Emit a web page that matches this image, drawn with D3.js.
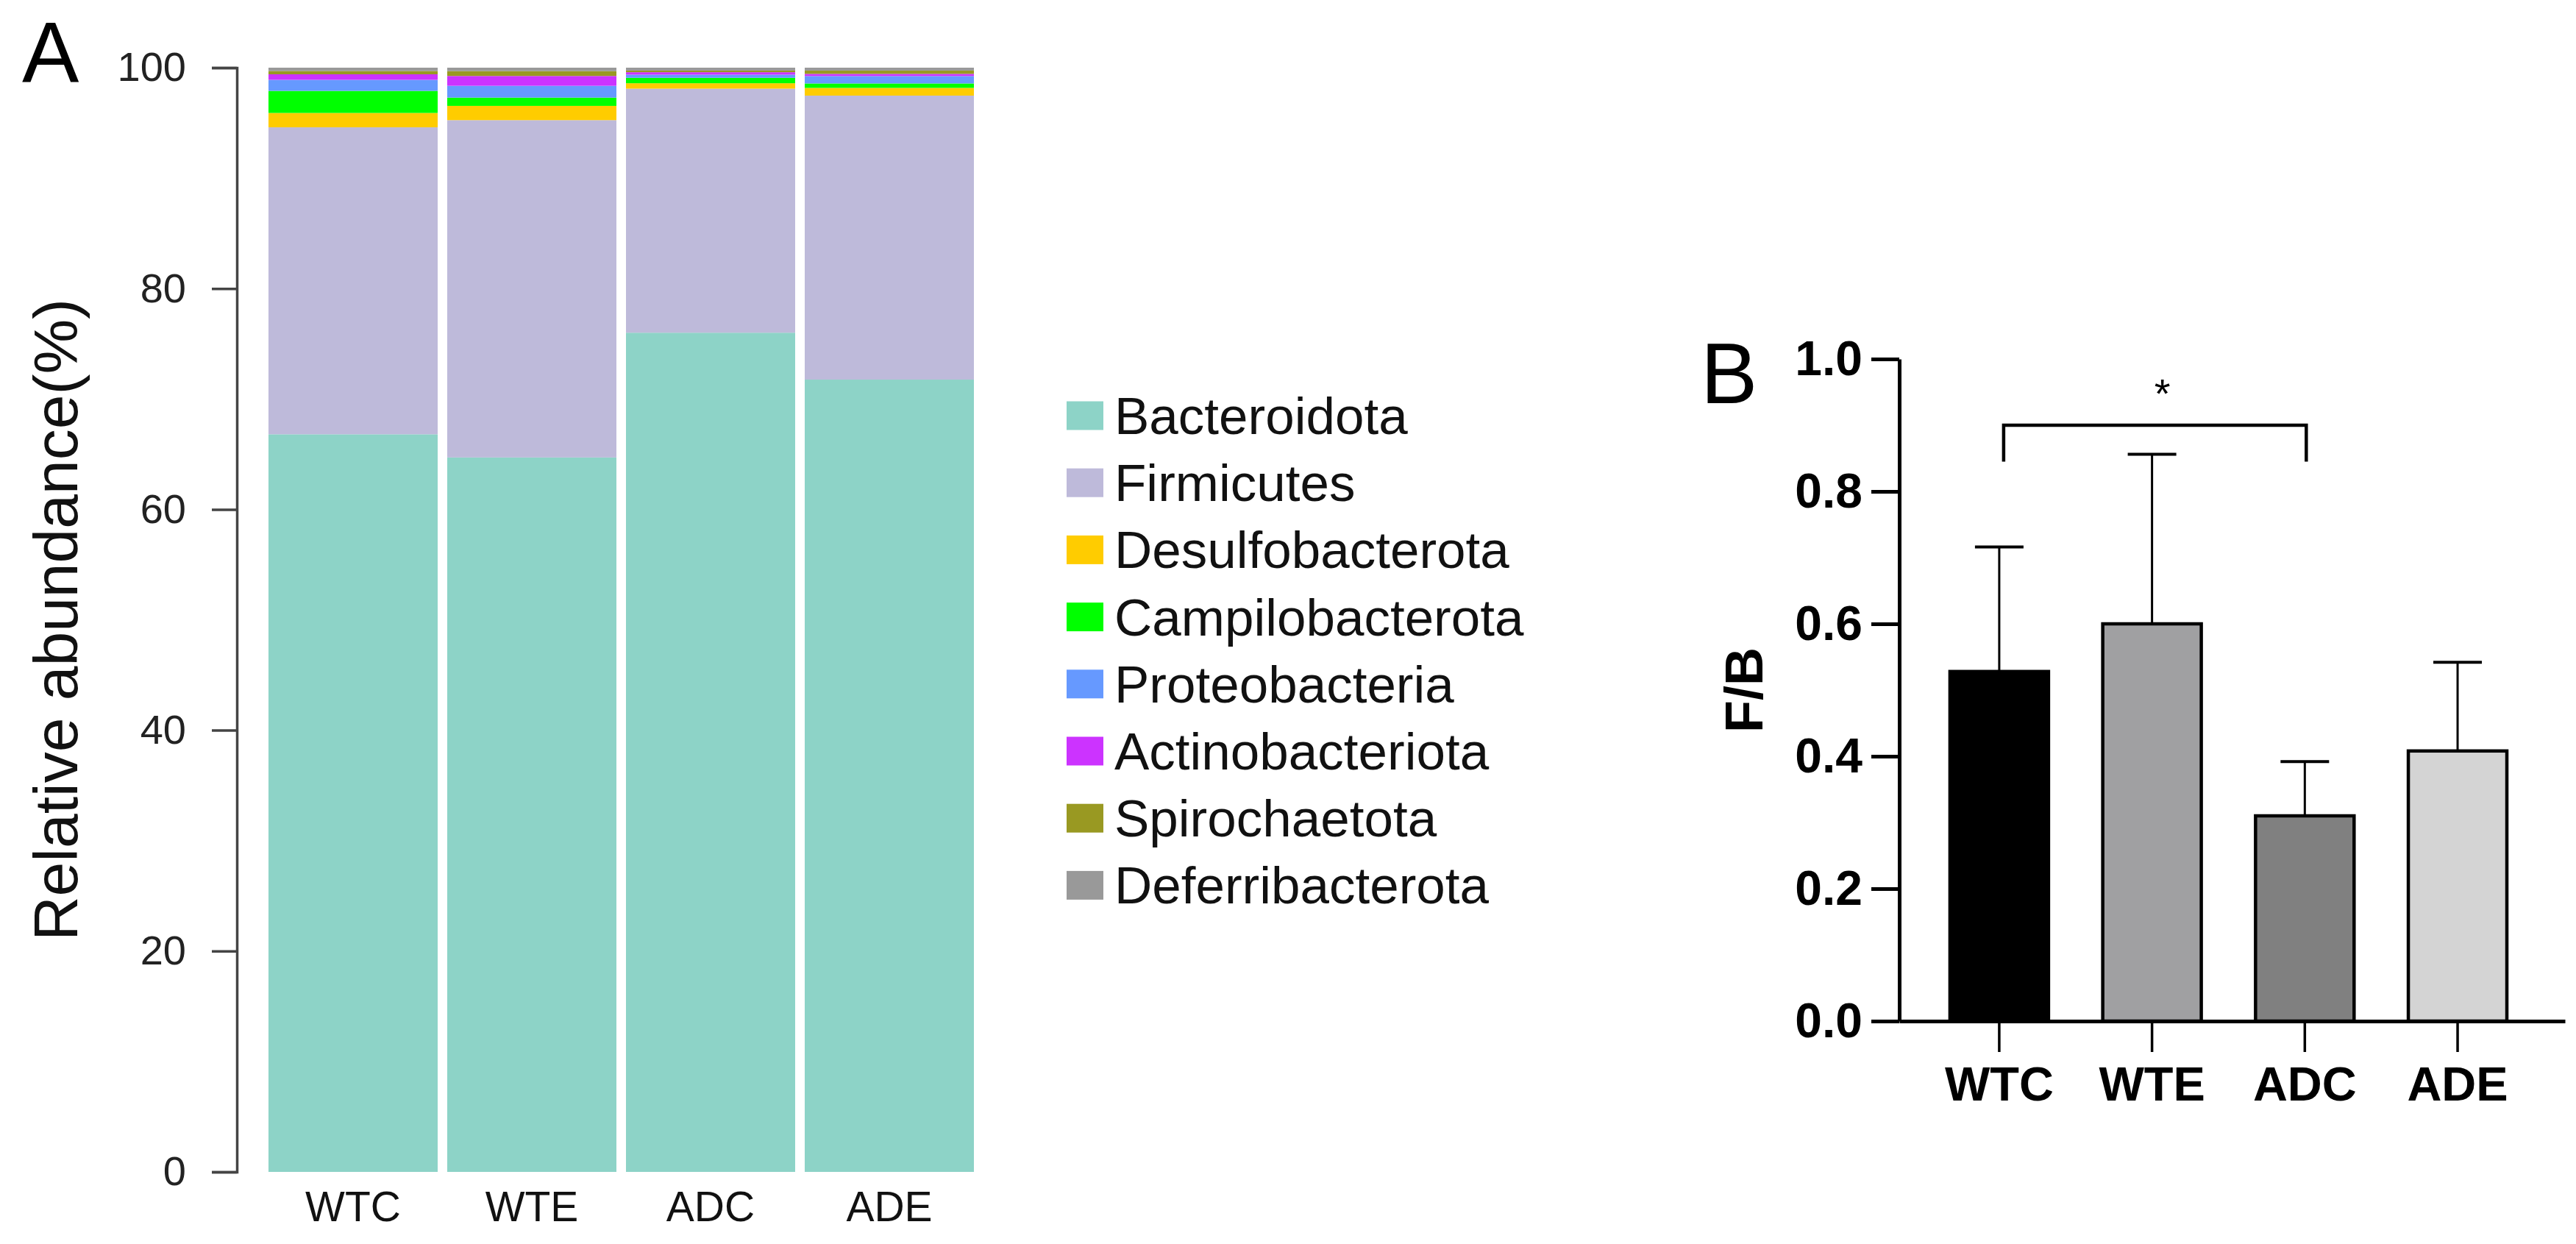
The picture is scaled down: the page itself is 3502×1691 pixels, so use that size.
<!DOCTYPE html>
<html>
<head>
<meta charset="utf-8">
<script src="https://cdn.jsdelivr.net/npm/d3@7"></script>
<style>
  body { margin: 0; background: #fff; }
  svg text { font-family: "Liberation Sans", Arial, sans-serif; }
</style>
</head>
<body>
<svg id="chart" width="3502" height="1691"></svg>
<script>
// ---- panel A data (relative abundance, %) ----
const groups = ["WTC", "WTE", "ADC", "ADE"];
const phyla = ["Bacteroidota", "Firmicutes", "Desulfobacterota", "Campilobacterota",
               "Proteobacteria", "Actinobacteriota", "Spirochaetota", "Deferribacterota"];
const phylumColors = ["#8dd3c7", "#bebada", "#ffcc00", "#00ff00",
                      "#6699ff", "#cc33ff", "#999922", "#999999"];
const bacteroidota     = [66.8, 64.7, 76.0, 71.75];
const firmicutes       = [27.8, 30.55, 22.1, 25.72];
const desulfobacterota = [1.3, 1.29, 0.49, 0.7];
const campilobacterota = [2.0, 0.75, 0.49, 0.4];
const proteobacteria   = [1.0, 1.07, 0.29, 0.67];
const actinobacteriota = [0.5, 0.89, 0.22, 0.2];
const spirochaetota    = [0.3, 0.44, 0.15, 0.3];
const deferribacterota = [0.3, 0.31, 0.26, 0.26];
const abundanceTicks = [0, 20, 40, 60, 80, 100];

// ---- panel B data (F/B ratio) ----
const fbMean  = [0.528, 0.60, 0.31, 0.408];
const fbError = [0.188, 0.256, 0.082, 0.134];
const fbFill  = ["#000000", "#a0a0a2", "#808080", "#d4d4d4"];
const fbTicks = [0, 0.2, 0.4, 0.6, 0.8, 1.0];
const sigPair = ["WTC", "ADC"];
const sigLevels = [0.9, 0.845];   // bracket top, bracket leg end
const sigLabel = "*";

const svg = d3.select("#chart");

// ================= panel A =================
const seriesValues = [bacteroidota, firmicutes, desulfobacterota, campilobacterota,
                      proteobacteria, actinobacteriota, spirochaetota, deferribacterota];
const table = groups.map((g, i) => {
  const row = { group: g };
  phyla.forEach((p, j) => { row[p] = seriesValues[j][i]; });
  return row;
});

const xA = d3.scaleBand()
  .domain(groups)
  .range([358.5, 1330.5])
  .paddingInner(0.0535)
  .paddingOuter(0.0267);

const yA = d3.scaleLinear()
  .domain([0, 100])
  .range([1593, 92]);

const colorA = d3.scaleOrdinal().domain(phyla).range(phylumColors);

const stacked = d3.stack().keys(phyla)(table);

svg.append("g")
  .selectAll("g")
  .data(stacked)
  .enter()
  .append("g")
  .attr("fill", d => colorA(d.key))
  .selectAll("rect")
  .data(d => d)
  .enter()
  .append("rect")
  .attr("x", d => xA(d.data.group))
  .attr("y", d => yA(d[1]))
  .attr("height", d => yA(d[0]) - yA(d[1]))
  .attr("width", xA.bandwidth());

const axisA = svg.append("g")
  .attr("transform", "translate(322,0)")
  .call(d3.axisLeft(yA).tickValues(abundanceTicks).tickSize(34).tickPadding(35));
axisA.selectAll("path, line").attr("stroke", "#444").attr("stroke-width", 3.5);
axisA.selectAll("text").attr("font-size", 56).attr("fill", "#222");

const xAxisA = svg.append("g")
  .attr("transform", "translate(0,1593)")
  .call(d3.axisBottom(xA).tickSize(0).tickPadding(27));
xAxisA.select(".domain").remove();
xAxisA.selectAll("text").attr("font-size", 57).attr("fill", "#111");

svg.append("text")
  .attr("transform", "translate(105," + ((yA(0) + yA(100)) / 2) + ") rotate(-90)")
  .attr("text-anchor", "middle")
  .attr("font-size", 84)
  .attr("fill", "#111")
  .text("Relative abundance(%)");

svg.append("text")
  .attr("x", 30).attr("y", 112)
  .attr("font-size", 116)
  .attr("fill", "#000")
  .text("A");

// legend
const legend = svg.append("g").attr("transform", "translate(1450,565)");
const legendItems = legend.selectAll("g")
  .data(phyla)
  .enter()
  .append("g")
  .attr("transform", (d, i) => "translate(0," + i * 91.2 + ")");
legendItems.append("rect")
  .attr("x", 0).attr("y", -19.5)
  .attr("width", 50).attr("height", 39)
  .attr("fill", d => colorA(d));
legendItems.append("text")
  .attr("x", 65).attr("y", 25)
  .attr("font-size", 71)
  .attr("fill", "#111")
  .text(d => d);

// ================= panel B =================
const xB = d3.scaleBand()
  .domain(groups)
  .range([2582, 3487])
  .paddingInner(0.355)
  .paddingOuter(0.356)
  .align(0.466);

const yB = d3.scaleLinear()
  .domain([0, 1])
  .range([1388, 488]);

const bw = xB.bandwidth();

// error bars (drawn first so the bar outline sits on top)
const errG = svg.append("g").attr("stroke", "#000");
groups.forEach((g, i) => {
  const cx = xB(g) + bw / 2;
  errG.append("line")
    .attr("x1", cx).attr("x2", cx)
    .attr("y1", yB(fbMean[i])).attr("y2", yB(fbMean[i] + fbError[i]))
    .attr("stroke-width", 3);
  errG.append("line")
    .attr("x1", cx - 33).attr("x2", cx + 33)
    .attr("y1", yB(fbMean[i] + fbError[i])).attr("y2", yB(fbMean[i] + fbError[i]))
    .attr("stroke-width", 4);
});

svg.append("g")
  .selectAll("rect")
  .data(groups)
  .enter()
  .append("rect")
  .attr("x", d => xB(d))
  .attr("y", (d, i) => yB(fbMean[i]))
  .attr("width", bw)
  .attr("height", (d, i) => yB(0) - yB(fbMean[i]))
  .attr("fill", (d, i) => fbFill[i])
  .attr("stroke", "#000")
  .attr("stroke-width", 4.5);

const axisB = svg.append("g")
  .attr("transform", "translate(2582,0)")
  .call(d3.axisLeft(yB).tickValues(fbTicks).tickFormat(d3.format(".1f"))
    .tickSize(38).tickSizeOuter(0).tickPadding(12));
axisB.selectAll("path, line").attr("stroke", "#000").attr("stroke-width", 5);
axisB.selectAll("text").attr("font-size", 66).attr("font-weight", "bold").attr("fill", "#000");

const xAxisB = svg.append("g")
  .attr("transform", "translate(0,1388)")
  .call(d3.axisBottom(xB).tickSize(42).tickSizeOuter(0).tickPadding(20));
xAxisB.select(".domain").attr("stroke", "#000").attr("stroke-width", 5);
xAxisB.selectAll("line").attr("stroke", "#000").attr("stroke-width", 3.5);
xAxisB.selectAll("text").attr("font-size", 65).attr("font-weight", "bold").attr("fill", "#000");

svg.append("text")
  .attr("transform", "translate(2396," + ((yB(0) + yB(1)) / 2) + ") rotate(-90)")
  .attr("text-anchor", "middle")
  .attr("font-size", 72)
  .attr("font-weight", "bold")
  .attr("fill", "#000")
  .text("F/B");

svg.append("text")
  .attr("x", 2312).attr("y", 548)
  .attr("font-size", 116)
  .attr("fill", "#000")
  .text("B");

// significance bracket
const sx1 = xB(sigPair[0]) + bw / 2 + 6;
const sx2 = xB(sigPair[1]) + bw / 2 + 2;
svg.append("path")
  .attr("d", d3.line()([[sx1, yB(sigLevels[1])], [sx1, yB(sigLevels[0])],
                        [sx2, yB(sigLevels[0])], [sx2, yB(sigLevels[1])]]))
  .attr("fill", "none")
  .attr("stroke", "#000")
  .attr("stroke-width", 4.5);
svg.append("text")
  .attr("x", (sx1 + sx2) / 2 + 10).attr("y", yB(sigLevels[0]) - 24)
  .attr("text-anchor", "middle")
  .attr("font-size", 56)
  .attr("fill", "#000")
  .text(sigLabel);
</script>
</body>
</html>
